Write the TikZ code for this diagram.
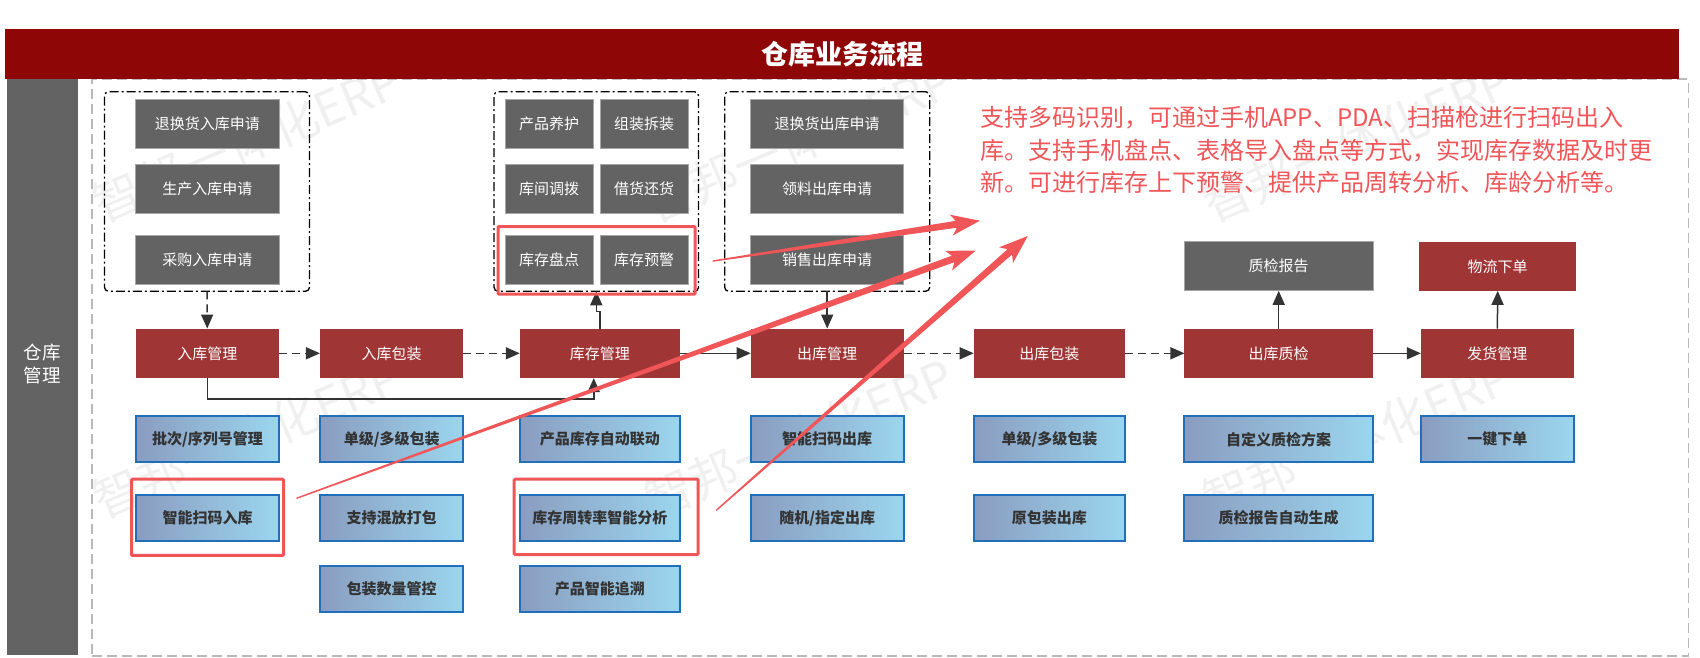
\documentclass[tikz,border=0pt]{standalone}
\usepackage{fontspec}
\setmainfont{Noto Sans CJK SC}
\usetikzlibrary{arrows.meta,calc}
\definecolor{barred}{HTML}{8F0606}
\definecolor{boxred}{HTML}{A03535}
\definecolor{boxgray}{HTML}{636363}
\definecolor{markred}{HTML}{F05558}
\definecolor{blueline}{HTML}{1F6FBA}
\definecolor{blueleft}{HTML}{8A9CC0}
\definecolor{blueright}{HTML}{9BD6EE}
\definecolor{darkline}{HTML}{333333}
\tikzset{
  allbox/.style={inner sep=0pt,outer sep=0pt,font=\fontsize{15}{15}\selectfont},
  graybox/.style={allbox,fill=boxgray,draw=gray!70,line width=.8pt,text=white,minimum height=49pt},
  redbox/.style={allbox,fill=boxred,text=white,minimum height=49.5pt},
  bluebox/.style={allbox,left color=blueleft,right color=blueright,draw=blueline,line width=2pt,
    text=darkline,minimum height=46pt,font=\fontsize{15}{15}\selectfont\bfseries},
  groupbox/.style={draw=black,line width=1.3pt,rounded corners=4pt,inner sep=0pt,outer sep=0pt,
    dash pattern=on 9pt off 3pt on 2pt off 3pt},
  markbox/.style={draw=markred,line width=3pt,rounded corners=1pt,inner sep=0pt,outer sep=0pt},
  flowline/.style={draw=darkline,line width=1.5pt,-{Triangle[length=14pt,width=12pt]}},
  dashflow/.style={flowline,dash pattern=on 8pt off 5pt},
  wmark/.style={text=black!6,rotate=23,font=\fontsize{48}{48}\selectfont},
  cola/.style={minimum width=143.5pt},
  colb/.style={minimum width=143.5pt},
  colc/.style={minimum width=160pt},
  cold/.style={minimum width=153pt},
  cole/.style={minimum width=151.5pt},
  colf/.style={minimum width=188.5pt},
  colg/.style={minimum width=153pt}
}
\newcommand{\taperarrow}[2]{%
  \fill[markred] ($(#1)!.7pt!90:(#2)$) -- ($(#2)!24pt!(#1)!3.5pt!-90:(#1)$) -- ($(#2)!29pt!(#1)!10.5pt!-90:(#1)$) -- (#2)
    -- ($(#2)!29pt!(#1)!10.5pt!90:(#1)$) -- ($(#2)!24pt!(#1)!3.5pt!90:(#1)$) -- ($(#1)!.7pt!-90:(#2)$) -- cycle;}
\begin{document}
\begin{tikzpicture}[x=1pt,y=-1pt]
\useasboundingbox (0,0) rectangle (1700,657);
% watermark
\foreach \wx/\wy in {247/142,799/142,1357/142,247/438,799/438,1357/438}
  \node[wmark] (wm\wx\wy) at (\wx,\wy) {智邦一体化ERP};
% frame, title and side label
\node[draw=gray!55,line width=1.8pt,dash pattern=on 10pt off 5pt,minimum width=1596.5pt,minimum height=577pt,inner sep=0pt] (frame) at (890.25,367.5) {};
\node[fill=barred,text=white,minimum width=1674.5pt,minimum height=50pt,inner sep=0pt,font=\fontsize{27}{27}\selectfont\bfseries] (title) at (842,54) {仓库业务流程};
\node[fill=boxgray,minimum width=71.5pt,minimum height=576pt,inner sep=0pt] (side) at (42.25,367) {};
\node[text=white,inner sep=0pt,align=center,font=\fontsize{18.5}{22.7}\selectfont] (sideText) at (42.25,363.7) {仓库\\管理};
% request groups
\node[groupbox,minimum width=205pt,minimum height=199.5pt] (grpIn) at (207,191.5) {};
\node[groupbox,minimum width=204.5pt,minimum height=199.5pt] (grpStock) at (596.3,191.5) {};
\node[groupbox,minimum width=205pt,minimum height=199.5pt] (grpOut) at (827.2,191.5) {};
\node[graybox,cola] (inReturn) at (207.25,124) {退换货入库申请};
\node[graybox,cola] (inProd) at (207.25,188.5) {生产入库申请};
\node[graybox,cola] (inBuy) at (207.25,259.5) {采购入库申请};
\node[graybox,minimum width=88pt] (care) at (549.2,124) {产品养护};
\node[graybox,minimum width=88pt] (kit) at (644.2,124) {组装拆装};
\node[graybox,minimum width=88pt] (move) at (549.2,188.5) {库间调拨};
\node[graybox,minimum width=88pt] (borrow) at (644.2,188.5) {借货还货};
\node[graybox,minimum width=88pt] (count) at (549.2,259.5) {库存盘点};
\node[graybox,minimum width=88pt] (warn) at (644.2,259.5) {库存预警};
\node[graybox,cold] (outReturn) at (827.2,124) {退换货出库申请};
\node[graybox,cold] (outPick) at (827.2,188.5) {领料出库申请};
\node[graybox,cold] (outSale) at (827.2,259.5) {销售出库申请};
\node[graybox,colf] (qcReport) at (1278.7,266.3) {质检报告};
\node[redbox,minimum width=157.5pt,minimum height=49pt] (shipOrder) at (1497.7,266.3) {物流下单};
% main flow
\node[redbox,cola] (inMgr) at (207.25,353.3) {入库管理};
\node[redbox,colb] (inPack) at (391.7,353.3) {入库包装};
\node[redbox,colc] (stockMgr) at (599.75,353.3) {库存管理};
\node[redbox,cold] (outMgr) at (827.2,353.3) {出库管理};
\node[redbox,cole] (outPack) at (1049.45,353.3) {出库包装};
\node[redbox,colf] (outQc) at (1278.7,353.3) {出库质检};
\node[redbox,colg] (shipMgr) at (1497.35,353.3) {发货管理};
% features
\node[bluebox,cola] (fBatch) at (207.5,439.2) {批次/序列号管理};
\node[bluebox,cola] (fScanIn) at (207.5,518.2) {智能扫码入库};
\node[bluebox,colb] (fPackA) at (391.7,439.2) {单级/多级包装};
\node[bluebox,colb] (fMix) at (391.7,518.2) {支持混放打包};
\node[bluebox,colb] (fQty) at (391.7,589.2) {包装数量管控};
\node[bluebox,colc] (fLink) at (599.75,439.2) {产品库存自动联动};
\node[bluebox,colc] (fTurn) at (599.75,518.2) {库存周转率智能分析};
\node[bluebox,colc] (fTrace) at (599.75,589.2) {产品智能追溯};
\node[bluebox,cold] (fScanOut) at (827.2,439.2) {智能扫码出库};
\node[bluebox,cold] (fRandom) at (827.2,518.2) {随机/指定出库};
\node[bluebox,cole] (fPackB) at (1049.45,439.2) {单级/多级包装};
\node[bluebox,cole] (fOrig) at (1049.45,518.2) {原包装出库};
\node[bluebox,colf] (fPlan) at (1278.7,439.2) {自定义质检方案};
\node[bluebox,colf] (fAuto) at (1278.7,518.2) {质检报告自动生成};
\node[bluebox,colg] (fOne) at (1497.35,439.2) {一键下单};
% connectors
\draw[dashflow] (grpIn.south) -- (inMgr.north);
\draw[dashflow] (inMgr) -- (inPack);
\draw[dashflow] (inPack) -- (stockMgr);
\draw[flowline] (stockMgr) -- (outMgr);
\draw[dashflow] (outMgr) -- (outPack);
\draw[dashflow] (outPack) -- (outQc);
\draw[flowline] (outQc) -- (shipMgr);
\draw[flowline] (stockMgr.north) -- ++(0,-17) -| (grpStock.south);
\draw[flowline] (grpOut.south) -- (outMgr.north);
\draw[flowline] (inMgr.south) -- ++(0,20.7) -| ([xshift=-6pt]stockMgr.south);
\draw[flowline] (outQc.north) -- (qcReport.south);
\draw[flowline] (shipMgr.north) -- (shipOrder.south);
% note
\node[anchor=north west,inner sep=0pt,text=markred,align=left,font=\fontsize{24}{32.5}\selectfont] (note) at (980,106) {支持多码识别，可通过手机APP、PDA、扫描枪进行扫码出入\\库。支持手机盘点、表格导入盘点等方式，实现库存数据及时更\\新。可进行库存上下预警、提供产品周转分析、库龄分析等。};
% marks
\node[markbox,minimum width=152pt,minimum height=76.3pt] (hlIn) at (207.5,517.3) {};
\node[markbox,minimum width=184pt,minimum height=75.3pt] (hlTurn) at (606.2,516.85) {};
\node[markbox,minimum width=197pt,minimum height=67.7pt] (hlCount) at (596.5,260.35) {};
\coordinate (tailCount) at ($(hlCount.east)+(17.7,0.7)$);
\coordinate (tailIn) at ($(hlIn.east)+(13,-19)$);
\coordinate (tailTurn) at ($(hlTurn.east)+(18,-6.5)$);
\coordinate (tipCount) at (980,220.7);
\coordinate (tipIn) at (975.7,250.7);
\coordinate (tipTurn) at (1027.8,236);
\taperarrow{tailCount}{tipCount}
\taperarrow{tailIn}{tipIn}
\taperarrow{tailTurn}{tipTurn}
\end{tikzpicture}
\end{document}
